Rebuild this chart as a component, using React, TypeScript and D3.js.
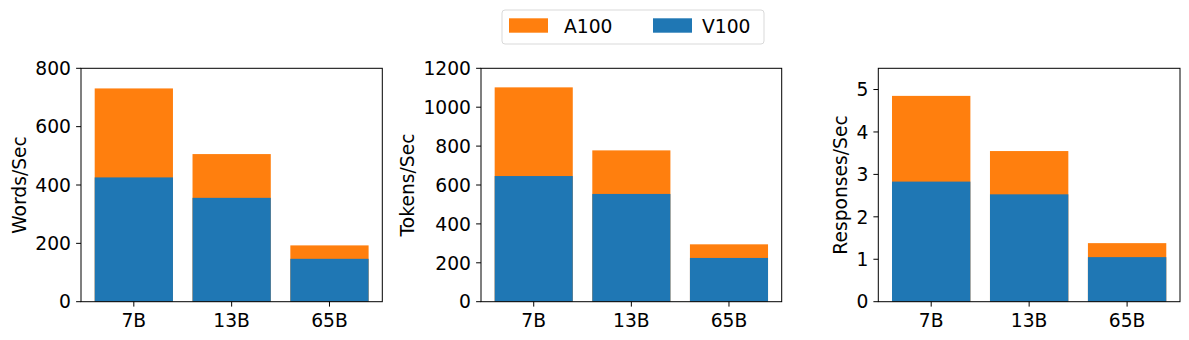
import React from "react";
import * as d3 from "d3";

const categories = ["7B", "13B", "65B"];

const wordsA100 = [731, 506, 193];
const wordsV100 = [426, 356, 147];
const tokensA100 = [1102, 778, 295];
const tokensV100 = [646, 554, 225];
const respA100 = [4.85, 3.55, 1.38];
const respV100 = [2.83, 2.53, 1.05];

const wordsTicks = [0, 200, 400, 600, 800];
const tokensTicks = [0, 200, 400, 600, 800, 1000, 1200];
const respTicks = [0, 1, 2, 3, 4, 5];

const ORANGE = "#ff7f0e";
const BLUE = "#1f77b4";
const FONT = "DejaVu Sans, sans-serif";
const FS = 18.7;

const W = 1189;
const H = 340;
const TOP = 68.3;
const BOTTOM = 301.7;

const panels = [
  { label: "Words/Sec", a100: wordsA100, v100: wordsV100, ticks: wordsTicks, yMax: 800, left: 81, right: 382.3 },
  { label: "Tokens/Sec", a100: tokensA100, v100: tokensV100, ticks: tokensTicks, yMax: 1200, left: 481, right: 781.7 },
  { label: "Responses/Sec", a100: respA100, v100: respV100, ticks: respTicks, yMax: 5.5, left: 878.3, right: 1180 },
];

const Panel = ({ p }) => {
  const x = d3.scaleLinear().domain([-0.54, 2.54]).range([p.left, p.right]);
  const y = d3.scaleLinear().domain([0, p.yMax]).range([BOTTOM, TOP]);
  const bw = x(0.8) - x(0);
  const maxLen = d3.max(p.ticks, (t) => String(t).length);
  const labelX = p.left - 10 - maxLen * 0.636 * FS - 9;
  const midY = (TOP + BOTTOM) / 2;

  return (
    <g>
      {/* A100 behind */}
      {categories.map((c, i) => (
        <rect key={"a" + c} x={x(i) - bw / 2} y={y(p.a100[i])} width={bw} height={BOTTOM - y(p.a100[i])} fill={ORANGE} />
      ))}
      {/* V100 in front */}
      {categories.map((c, i) => (
        <rect key={"v" + c} x={x(i) - bw / 2} y={y(p.v100[i])} width={bw} height={BOTTOM - y(p.v100[i])} fill={BLUE} />
      ))}
      <rect x={p.left} y={TOP} width={p.right - p.left} height={BOTTOM - TOP} fill="none" stroke="black" strokeWidth={1} />
      {/* y ticks */}
      {p.ticks.map((t) => (
        <g key={t}>
          <line x1={p.left - 4.9} x2={p.left} y1={y(t)} y2={y(t)} stroke="black" strokeWidth={1} />
          <text x={p.left - 10} y={y(t)} dy="0.36em" textAnchor="end" fontSize={FS} fontFamily={FONT} fill="black">
            {t}
          </text>
        </g>
      ))}
      {/* x ticks */}
      {categories.map((c, i) => (
        <g key={c}>
          <line x1={x(i)} x2={x(i)} y1={BOTTOM} y2={BOTTOM + 4.9} stroke="black" strokeWidth={1} />
          <text x={x(i)} y={327} textAnchor="middle" fontSize={FS} fontFamily={FONT} fill="black">
            {c}
          </text>
        </g>
      ))}
      <text
        transform={`translate(${labelX},${midY}) rotate(-90)`}
        textAnchor="middle"
        fontSize={FS}
        fontFamily={FONT}
        fill="black"
      >
        {p.label}
      </text>
    </g>
  );
};

const App = () => {
  return (
    <svg width={W} height={H} style={{ position: "absolute", left: 0, top: 0, background: "white" }}>
      <rect width={W} height={H} fill="white" />
      {panels.map((p) => (
        <Panel key={p.label} p={p} />
      ))}
      {/* legend */}
      <g>
        <rect x={502} y={10} width={262} height={34} rx={3} fill="white" stroke="#d9d9d9" strokeWidth={1} />
        <rect x={509} y={18.3} width={39} height={14.4} fill={ORANGE} />
        <text x={564} y={32.7} fontSize={FS} fontFamily={FONT} fill="black">A100</text>
        <rect x={653} y={18.3} width={39} height={14.4} fill={BLUE} />
        <text x={702} y={32.7} fontSize={FS} fontFamily={FONT} fill="black">V100</text>
      </g>
    </svg>
  );
};

export default App;
